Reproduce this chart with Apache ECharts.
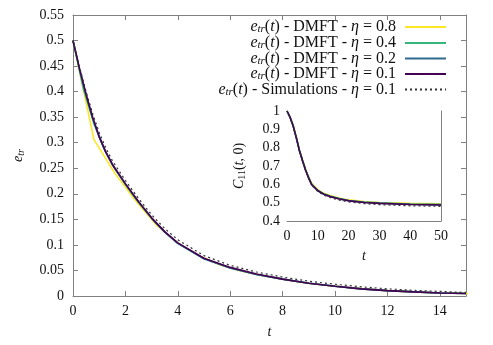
<!DOCTYPE html>
<html>
<head>
<meta charset="utf-8">
<script src="https://cdn.jsdelivr.net/npm/echarts@6/dist/echarts.min.js"></script>
<style>
html, body { margin: 0; padding: 0; background: #fff; }
#chart { width: 493px; height: 345px; }
</style>
</head>
<body>
<div id="chart"></div>
<script>
// main panel: e_tr(t), DMFT at several time steps + simulations
const tDmft08 = [0, 0.8, 1.6, 2.4, 3.2, 4.0, 4.8, 5.6, 6.4, 7.2, 8.0, 8.8, 9.6, 10.4, 11.2, 12.0, 12.8, 13.6, 14.4, 15.2];
const eDmft08 = [0.5, 0.306, 0.240, 0.186, 0.138, 0.104, 0.079, 0.061, 0.049, 0.040, 0.033, 0.026, 0.021, 0.017, 0.0135, 0.0105, 0.0085, 0.0068, 0.0057, 0.0048];
const tDmft04 = [0, 0.4, 0.8, 1.2, 1.6, 2.0, 2.4, 2.8, 3.2, 3.6, 4, 5, 6, 7, 8, 9, 10, 11, 12, 13, 14, 15];
const eDmft04 = [0.5, 0.405, 0.337, 0.287, 0.249, 0.218, 0.190, 0.165, 0.141, 0.121, 0.103, 0.073, 0.055, 0.042, 0.033, 0.025, 0.019, 0.014, 0.0105, 0.008, 0.006, 0.005];
const tMain = [0, 0.25, 0.5, 0.75, 1, 1.25, 1.5, 2, 2.5, 3, 3.5, 4, 5, 6, 7, 8, 9, 10, 11, 12, 13, 14, 15];
const eDmft02 = [0.5, 0.443, 0.393, 0.348, 0.311, 0.281, 0.257, 0.219, 0.184, 0.152, 0.125, 0.103, 0.073, 0.055, 0.042, 0.033, 0.025, 0.019, 0.014, 0.0105, 0.008, 0.006, 0.005];
const eDmft01 = [0.5, 0.445, 0.395, 0.350, 0.312, 0.282, 0.258, 0.220, 0.185, 0.153, 0.126, 0.104, 0.074, 0.056, 0.043, 0.033, 0.025, 0.019, 0.014, 0.0105, 0.008, 0.006, 0.005];
const eSim = [0.5, 0.448, 0.400, 0.357, 0.320, 0.290, 0.265, 0.226, 0.191, 0.159, 0.132, 0.110, 0.079, 0.060, 0.047, 0.037, 0.029, 0.023, 0.018, 0.014, 0.011, 0.009, 0.007];

// inset: C11(t,0)
const tC = [0, 1, 2, 3, 4, 5, 6, 7, 8, 10, 12, 14, 17, 20, 25, 30, 40, 50];
const c08 = [1, 0.968, 0.922, 0.861, 0.792, 0.737, 0.685, 0.642, 0.605, 0.571, 0.551, 0.539, 0.525, 0.515, 0.506, 0.501, 0.496, 0.494];
const c04 = [1, 0.967, 0.920, 0.858, 0.789, 0.734, 0.682, 0.639, 0.602, 0.568, 0.548, 0.536, 0.522, 0.512, 0.504, 0.499, 0.493, 0.491];
const c02 = [1, 0.966, 0.919, 0.856, 0.787, 0.732, 0.680, 0.637, 0.600, 0.566, 0.546, 0.534, 0.521, 0.511, 0.502, 0.497, 0.491, 0.488];
const c01 = [1, 0.965, 0.918, 0.855, 0.785, 0.730, 0.678, 0.635, 0.598, 0.565, 0.545, 0.533, 0.520, 0.510, 0.501, 0.496, 0.490, 0.487];
const cSim = [1, 0.964, 0.915, 0.852, 0.783, 0.727, 0.675, 0.632, 0.595, 0.560, 0.540, 0.528, 0.514, 0.504, 0.495, 0.489, 0.483, 0.480];

const seriesNames = ['d08', 'd04', 'd02', 'd01', 'sim'];
const legendText = {
    d08: '{i|e}{s|tr}{n|(}{i|t}{n|) - DMFT - }{i|η}{n| = 0.8}{g|}',
    d04: '{i|e}{s|tr}{n|(}{i|t}{n|) - DMFT - }{i|η}{n| = 0.4}{g|}',
    d02: '{i|e}{s|tr}{n|(}{i|t}{n|) - DMFT - }{i|η}{n| = 0.2}{g|}',
    d01: '{i|e}{s|tr}{n|(}{i|t}{n|) - DMFT - }{i|η}{n| = 0.1}{g|}',
    sim: '{i|e}{s|tr}{n|(}{i|t}{n|) - Simulations - }{i|η}{n| = 0.1}{g|}'
};
const colors = ['#fde725', '#35b779', '#31688e', '#440154', '#333333'];

const FONT = 'Liberation Serif';
const TXT = '#111';
const FRAME = '#808080';
const rich = {
    n: { fontFamily: FONT, fontSize: 14, color: TXT, lineHeight: 16 },
    i: { fontFamily: FONT, fontSize: 14, fontStyle: 'italic', color: TXT, lineHeight: 16 },
    s: { fontFamily: FONT, fontSize: 10, fontStyle: 'italic', color: TXT, lineHeight: 16, verticalAlign: 'bottom' },
    d: { fontFamily: FONT, fontSize: 10, color: TXT, lineHeight: 16, verticalAlign: 'bottom' },
    g: { width: 4 }
};
const legendRich = {
    n: { fontFamily: FONT, fontSize: 16, color: TXT, lineHeight: 16 },
    i: { fontFamily: FONT, fontSize: 16, fontStyle: 'italic', color: TXT, lineHeight: 16 },
    s: { fontFamily: FONT, fontSize: 11, fontStyle: 'italic', color: TXT, lineHeight: 16, verticalAlign: 'bottom' },
    g: { width: 4 }
};

function zip(xs, ys) {
    return xs.map((x, k) => [x, ys[k]]);
}

function axisBase(gridIndex, min, max, interval) {
    return {
        type: 'value', gridIndex: gridIndex, min: min, max: max, interval: interval,
        splitLine: { show: false },
        axisLine: { show: true, onZero: false, lineStyle: { color: FRAME, width: 1 } },
        axisTick: { show: true, inside: true, length: 5, lineStyle: { color: FRAME } },
        axisLabel: { show: false }
    };
}

function labelled(ax, margin) {
    ax.axisLabel = {
        show: true, margin: margin, showMaxLabel: true,
        fontFamily: FONT, fontSize: 14, color: TXT
    };
    return ax;
}

const xMain = labelled(axisBase(0, 0, 15, 2), 8);
xMain.axisLabel.showMaxLabel = false;
xMain.position = 'bottom';
xMain.name = '{i|t}';
xMain.nameLocation = 'middle';
xMain.nameGap = 28;
xMain.nameTextStyle = { rich: rich };
const xMainTop = axisBase(0, 0, 15, 2);
xMainTop.position = 'top';

const yMain = labelled(axisBase(0, 0, 0.55, 0.05), 9);
yMain.position = 'left';
yMain.name = '{i|e}{s|tr}';
yMain.nameLocation = 'middle';
yMain.nameGap = 47;
yMain.nameTextStyle = { rich: rich };
const yMainRight = axisBase(0, 0, 0.55, 0.05);
yMainRight.position = 'right';

const xIns = labelled(axisBase(1, 0, 50, 10), 8);
xIns.position = 'bottom';
xIns.name = '{i|t}';
xIns.nameLocation = 'middle';
xIns.nameGap = 27;
xIns.nameTextStyle = { rich: rich };
const xInsTop = axisBase(1, 0, 50, 10);
xInsTop.position = 'top';

const yIns = labelled(axisBase(1, 0.4, 1, 0.1), 7);
yIns.position = 'left';
yIns.name = '{i|C}{d|11}{n|(}{i|t}{n|, 0)}';
yIns.nameLocation = 'middle';
yIns.nameGap = 40;
yIns.nameTextStyle = { rich: rich };
const yInsRight = axisBase(1, 0.4, 1, 0.1);
yInsRight.position = 'right';

const mainData = [zip(tDmft08, eDmft08), zip(tDmft04, eDmft04), zip(tMain, eDmft02), zip(tMain, eDmft01), zip(tMain, eSim)];
const insetData = [zip(tC, c08), zip(tC, c04), zip(tC, c02), zip(tC, c01), zip(tC, cSim)];

const series = [];
seriesNames.forEach((nm, k) => {
    const dotted = nm === 'sim';
    series.push({
        name: nm, type: 'line', xAxisIndex: 0, yAxisIndex: 0,
        data: mainData[k], symbol: 'none', showSymbol: false,
        color: colors[k], animation: false,
        lineStyle: { color: colors[k], width: dotted ? 1.2 : 1.6, type: dotted ? [2, 3] : 'solid' },
        z: 2 + k
    });
});
seriesNames.forEach((nm, k) => {
    const dotted = nm === 'sim';
    series.push({
        name: 'inset-' + nm, type: 'line', xAxisIndex: 2, yAxisIndex: 2,
        data: insetData[k], symbol: 'none', showSymbol: false,
        color: colors[k], animation: false,
        lineStyle: { color: colors[k], width: dotted ? 1.2 : 1.6, type: dotted ? [2, 3] : 'solid' },
        z: 12 + k
    });
});

const legendCenters = [27, 43, 58.5, 74, 89.5];
const legends = seriesNames.map((nm, k) => ({
    data: [nm], right: 46, top: legendCenters[k] - 8, padding: 0, align: 'right',
    orient: 'horizontal', itemWidth: 41, itemHeight: 10, selectedMode: false,
    itemStyle: { opacity: 0 },
    formatter: (name) => legendText[name],
    textStyle: { rich: legendRich }
}));

const chart = echarts.init(document.getElementById('chart'));
chart.setOption({
    backgroundColor: '#fff',
    animation: false,
    legend: legends,
    grid: [
        { left: 73, right: 27, top: 15, bottom: 49, containLabel: false, outerBoundsMode: 'none' },
        { left: 287, right: 52, top: 111, bottom: 124, containLabel: false, outerBoundsMode: 'none', show: true, backgroundColor: '#fff', borderWidth: 0, z: 10 }
    ],
    xAxis: [xMain, xMainTop, xIns, xInsTop],
    yAxis: [yMain, yMainRight, yIns, yInsRight],
    series: series
});
</script>
</body>
</html>
